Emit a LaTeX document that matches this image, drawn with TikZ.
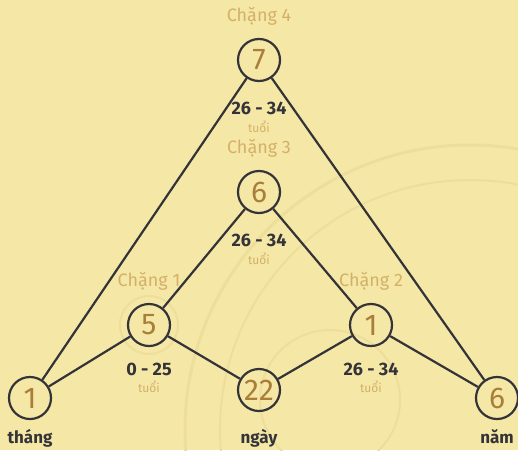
\documentclass[tikz,border=0pt]{standalone}
\usepackage{fontspec}
\setmainfont{Fira Sans}
\usetikzlibrary{positioning}
\definecolor{parchment}{RGB}{245,231,166}
\definecolor{faintline}{RGB}{238,222,156}
\definecolor{inkdark}{RGB}{52,52,56}
\definecolor{goldnum}{RGB}{168,126,58}
\definecolor{tanlabel}{RGB}{212,176,104}

\begin{document}
\begin{tikzpicture}[
    x=1pt, y=-1pt,
    node distance=2pt,
    num/.style={circle, draw=inkdark, line width=2.2pt, minimum size=42pt, inner sep=0pt, text=goldnum, font=\fontsize{30}{30}\selectfont},
    stagelabel/.style={text=tanlabel, font=\fontsize{18}{18}\selectfont, inner sep=1pt},
    agelabel/.style={text=inkdark, font=\bfseries\fontsize{18}{18}\selectfont, inner sep=1pt},
    unitlabel/.style={text=tanlabel, font=\fontsize{12}{12}\selectfont, inner sep=1pt},
    baselabel/.style={text=inkdark, font=\bfseries\fontsize{17}{17}\selectfont, inner sep=1pt},
    link/.style={draw=inkdark, line width=2.2pt}
]
    % background
    \fill [parchment] (0,0) rectangle (518,450);
    \useasboundingbox (0,0) rectangle (518,450);
    \begin{scope}
        \clip (0,0) rectangle (518,450);
        \draw [faintline, line width=3pt] (470,430) circle (285);
        \draw [faintline, line width=2pt] (470,430) circle (250);
        \draw [faintline, line width=2pt] (330,400) circle (70);
        \draw [faintline, line width=2pt] (149,325) circle (29);
    \end{scope}

    \node (top) [num] at (259,60) {7};
    \node (mid) [num] at (259,192) {6};
    \node (left) [num] at (149,325) {5};
    \node (right) [num] at (371,325) {1};
    \node (month) [num] at (30,398) {1};
    \node (day) [num] at (259,390) {22};
    \node (year) [num] at (497,398) {6};

    \draw [link] (month) -- (top);
    \draw [link] (top) -- (year);
    \draw [link] (month) -- (left);
    \draw [link] (left) -- (day);
    \draw [link] (day) -- (right);
    \draw [link] (right) -- (year);
    \draw [link] (left) -- (mid);
    \draw [link] (mid) -- (right);

    % stage names
    \node (stagefour) [stagelabel, above=11pt of top] {Chặng 4};
    \node (stagethree) [stagelabel, above=11pt of mid] {Chặng 3};
    \node (stageone) [stagelabel, above=11pt of left] {Chặng 1};
    \node (stagetwo) [stagelabel, above=11pt of right] {Chặng 2};

    % age ranges
    \node (agefour) [agelabel, below=19pt of top] {26 - 34};
    \node [unitlabel, below=4pt of agefour] {tuổi};
    \node (agethree) [agelabel, below=19pt of mid] {26 - 34};
    \node [unitlabel, below=4pt of agethree] {tuổi};
    \node (ageone) [agelabel, below=15pt of left] {0 - 25};
    \node [unitlabel, below=3pt of ageone] {tuổi};
    \node (agetwo) [agelabel, below=15pt of right] {26 - 34};
    \node [unitlabel, below=3pt of agetwo] {tuổi};

    % units
    \node [baselabel, below=8pt of month] {tháng};
    \node [baselabel, below=16pt of day] {ngày};
    \node [baselabel, below=8pt of year] {năm};
\end{tikzpicture}
\end{document}
